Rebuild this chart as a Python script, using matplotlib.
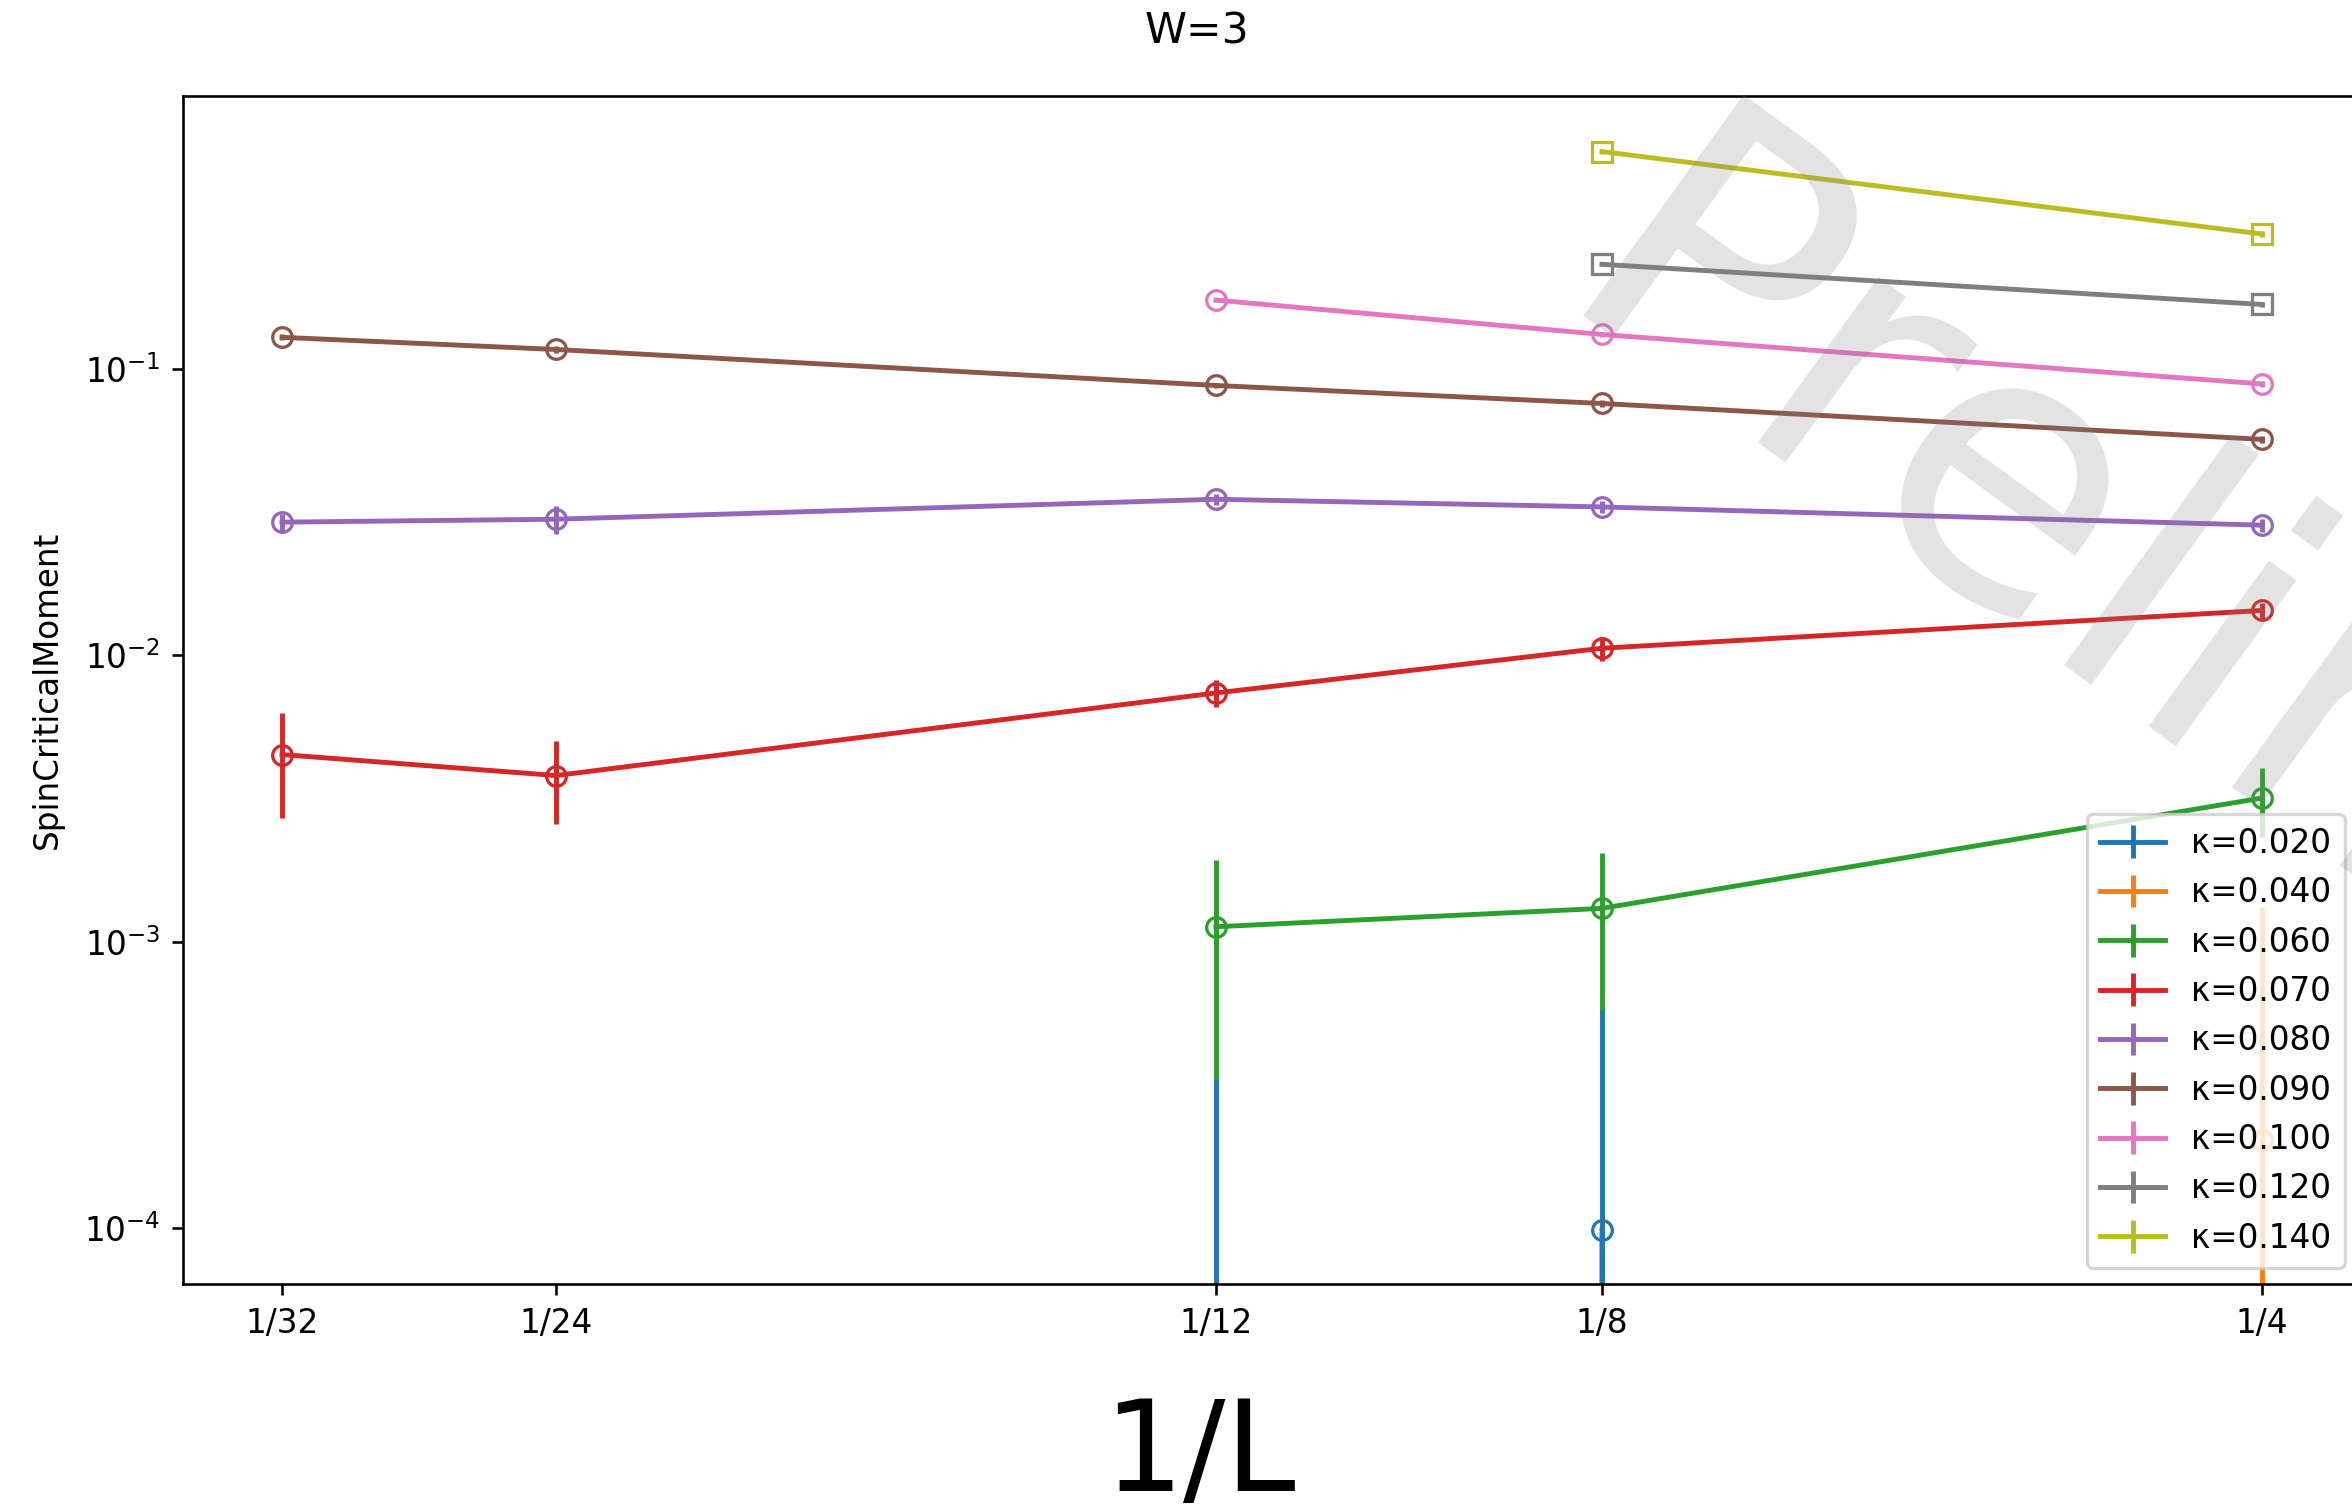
import numpy as np
import matplotlib
matplotlib.use("Agg")
import matplotlib.pyplot as plt

# ---- data ----
tick_L = [32, 24, 12, 8, 4]
tick_labels = ['1/32', '1/24', '1/12', '1/8', '1/4']

kappa_labels = ['κ=0.020', 'κ=0.040', 'κ=0.060', 'κ=0.070', 'κ=0.080',
                'κ=0.090', 'κ=0.100', 'κ=0.120', 'κ=0.140']

k020_L = [12, 8]
k020_y = [-1.0e-4, 9.9e-5]
k020_e = [4.4e-4, 5.0e-4]

k040_L = [4]
k040_y = [2.04e-4]
k040_e = [1.12e-3]

k060_L = [12, 8, 4]
k060_y = [1.13e-3, 1.31e-3, 3.18e-3]
k060_e = [8.0e-4, 7.3e-4, 8.6e-4]

k070_L = [32, 24, 12, 8, 4]
k070_y = [4.51e-3, 3.81e-3, 7.40e-3, 1.06e-2, 1.436e-2]
k070_e = [1.8e-3, 1.23e-3, 8.0e-4, 1.0e-3, 9.0e-4]

k080_L = [32, 24, 12, 8, 4]
k080_y = [0.0292, 0.0299, 0.0351, 0.0330, 0.0285]
k080_e = [0.0021, 0.0033, 0.0015, 0.0015, 0.0015]

k090_L = [32, 24, 12, 8, 4]
k090_y = [0.129, 0.117, 0.0876, 0.0758, 0.0568]
k090_e = [0.003, 0.003, 0.002, 0.002, 0.0015]

k100_L = [12, 8, 4]
k100_y = [0.174, 0.132, 0.0887]
k100_e = [0.003, 0.003, 0.002]

k120_L = [8, 4]
k120_y = [0.232, 0.168]
k120_e = [0.004, 0.003]

k140_L = [8, 4]
k140_y = [0.574, 0.296]
k140_e = [0.01, 0.006]

series_L = [k020_L, k040_L, k060_L, k070_L, k080_L, k090_L, k100_L, k120_L, k140_L]
series_y = [k020_y, k040_y, k060_y, k070_y, k080_y, k090_y, k100_y, k120_y, k140_y]
series_e = [k020_e, k040_e, k060_e, k070_e, k080_e, k090_e, k100_e, k120_e, k140_e]
markers = ['o', 'o', 'o', 'o', 'o', 'o', 'o', 's', 's']

# ---- figure ----
DPI = 235.2
fig = plt.figure(figsize=(2352 / DPI, 1504 / DPI), dpi=DPI)
ax = fig.add_axes([183 / 2352, 1 - 1284 / 1504, (2361 - 183) / 2352, (1284 - 96) / 1504])
ax.set_xscale('log')
ax.set_yscale('log')

colors = plt.rcParams['axes.prop_cycle'].by_key()['color']
for i, (Ls, ys, es) in enumerate(zip(series_L, series_y, series_e)):
    x = 1.0 / np.array(Ls, dtype=float)
    c = colors[i % len(colors)]
    ax.errorbar(x, ys, yerr=es, fmt='-', color=c, label=kappa_labels[i])
    ax.plot(x, ys, linestyle='none', marker=markers[i], mfc='none', mec=c, ms=6)

xt = 1.0 / np.array(tick_L, dtype=float)
lo, hi = np.log(xt.min()), np.log(xt.max())
m = 0.05 * (hi - lo)
ax.set_xlim(np.exp(lo - m), np.exp(hi + m))
ax.set_ylim(10 ** -4.194, 10 ** -0.047)
ax.minorticks_off()
ax.set_xticks(xt)
ax.set_xticklabels(tick_labels)

ax.set_ylabel('SpinCriticalMoment', labelpad=6)
ax.set_xlabel('1/L', fontsize=38.5)
ax.xaxis.label.set_va('baseline')
ax.xaxis.set_label_coords(0.4665, -0.174)

ax.legend(loc='lower right', fontsize=10)

fig.text(0.509, 1 - 44 / 1504, 'W=3', fontsize=13, ha='center', va='baseline')

fig.text(0.657, 0.7906, 'Preliminary', fontsize=115, color='gray', alpha=0.22,
         rotation=-36, rotation_mode='anchor', ha='left', va='baseline')

fig.savefig('out.png', dpi=DPI)
